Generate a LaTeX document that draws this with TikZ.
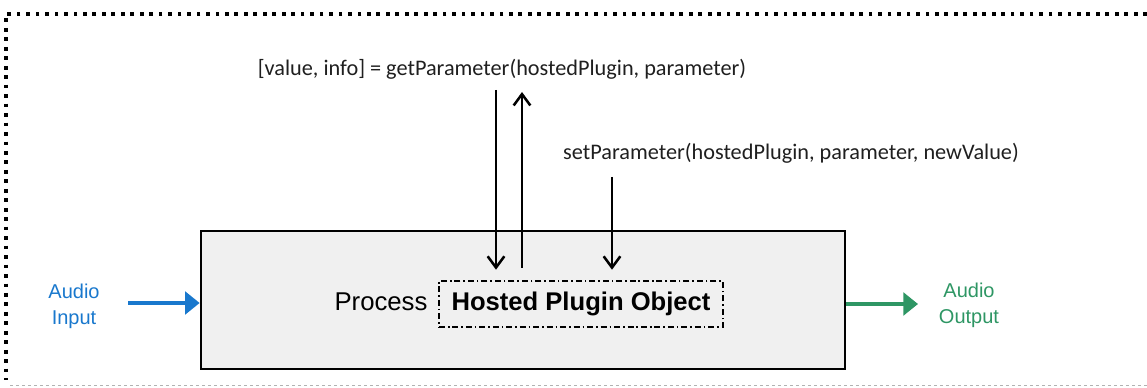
\documentclass[tikz,border=0pt]{standalone}
\usepackage{fontspec}
\setmainfont{Liberation Sans}
\newfontfamily\calibri{Carlito}
\usepackage{xcolor}
\usetikzlibrary{arrows.meta, positioning}
\definecolor{audioblue}{RGB}{25,120,205}
\definecolor{audiogreen}{RGB}{46,150,100}
\definecolor{boxgray}{RGB}{240,240,240}

\begin{document}
\begin{tikzpicture}[x=0.75pt, y=-0.75pt, line width=1.5pt,
    callarrow/.style={-{Straight Barb[length=8.5pt, width=12.5pt]}, line width=1.9pt},
    calltext/.style={font=\calibri\fontsize{16.7}{20}\selectfont, inner sep=0pt, text=black!88},
    audiotext/.style={font=\fontsize{15}{19.5}\selectfont, align=center, inner sep=0pt},
    audioarrow/.style={line width=2.6pt, -{Triangle[length=11pt, width=17pt]}}]
        % 画布范围
        \useasboundingbox (0,0) rectangle (1147,388);
        
        % 外框 (点线)
        \draw[line width=2.8pt, dash pattern=on 2.8pt off 4.3pt] (1147,14) -- (6,14) -- (6,380);
        \draw[gray!60, line width=0.75pt, dash pattern=on 2.5pt off 2pt] (10,386) -- (1147,386);
        
        % 处理框
        \node[draw, fill=boxgray, line width=2pt, minimum width=483pt, minimum height=103.5pt] (process) at (523,300) {};
        \node (processlabel) at (381,302) {\fontsize{19.3}{23}\selectfont Process};
        \node[draw, line width=0.9pt, dash pattern=on 4.5pt off 2.2pt on 1.2pt off 2.2pt,
              minimum width=213pt, minimum height=34.5pt, font=\bfseries\fontsize{19.2}{23}\selectfont] (hosted) at (581,304) {Hosted Plugin Object};
        
        % 参数调用
        \node[calltext] (gettext) at (502,69) {[value, info] = getParameter(hostedPlugin, parameter)};
        \node[calltext] (settext) at (791,153) {setParameter(hostedPlugin, parameter, newValue)};
        \coordinate (getdown) at (496,90);
        \coordinate (getup) at (522,92);
        \coordinate (setdown) at (612,177);
        \draw[callarrow, shorten >=8pt] (getdown) -- (getdown |- hosted.north);
        \draw[callarrow, shorten <=9.5pt] (getup |- hosted.north) -- (getup);
        \draw[callarrow, shorten >=8pt] (setdown) -- (setdown |- hosted.north);
        
        % 音频输入/输出
        \node[audiotext, text=audioblue] (audioin) at (74,306) {Audio\\Input};
        \node[audiotext, text=audiogreen] (audioout) at (969,305) {Audio\\Output};
        \coordinate (inarrow) at (128,303);
        \coordinate (outarrow) at (918,304);
        \draw[audioarrow, audioblue] (inarrow) -- (inarrow -| process.west);
        \draw[audioarrow, audiogreen] (outarrow -| process.east) -- (outarrow);
    \end{tikzpicture}
\end{document}
